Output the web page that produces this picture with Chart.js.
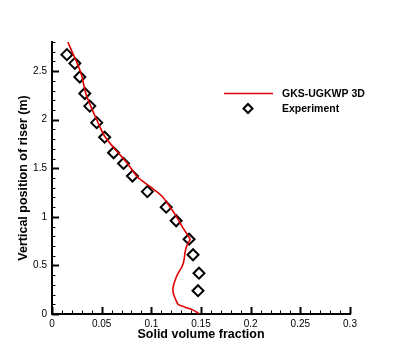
<!DOCTYPE html>
<html>
<head>
<meta charset="utf-8">
<script src="https://cdn.jsdelivr.net/npm/chart.js@4.4.1/dist/chart.umd.min.js"></script>
<style>
  html, body { margin: 0; padding: 0; background: #fff; }
  #wrap { width: 398px; height: 354px; }
</style>
</head>
<body>
<div id="wrap"><canvas id="riserChart" width="398" height="354"></canvas></div>
<script>
// GKS-UGKWP 3D profile (top of riser down to the bottom)
const simX = [0.016, 0.021, 0.025, 0.030, 0.034, 0.039, 0.045, 0.053, 0.064, 0.076, 0.086, 0.099,
              0.111, 0.121, 0.126, 0.131, 0.136, 0.139, 0.136, 0.134, 0.133, 0.131, 0.127, 0.124,
              0.122, 0.122, 0.124, 0.127, 0.134, 0.142, 0.147, 0.148];
const simY = [2.80, 2.68, 2.59, 2.45, 2.27, 2.14, 2.00, 1.83, 1.69, 1.55, 1.41, 1.31,
              1.21, 1.07, 0.99, 0.90, 0.82, 0.77, 0.71, 0.64, 0.56, 0.49, 0.42, 0.35,
              0.28, 0.22, 0.16, 0.10, 0.07, 0.04, 0.01, 0.00];

// experiment symbols
const expX = [0.015, 0.023, 0.028, 0.033, 0.038, 0.045, 0.053, 0.062, 0.072, 0.081, 0.096, 0.115,
              0.125, 0.138, 0.142, 0.148, 0.147];
const expY = [2.67, 2.58, 2.44, 2.27, 2.14, 1.97, 1.82, 1.66, 1.55, 1.42, 1.26, 1.10,
              0.96, 0.77, 0.61, 0.42, 0.24];

const xTickValues = [0, 0.05, 0.1, 0.15, 0.2, 0.25, 0.3];
const yTickValues = [0, 0.5, 1, 1.5, 2, 2.5];

const FONT = '"Liberation Sans", Arial, Helvetica, sans-serif';
const RED = 'rgb(222,0,0)';

const toPoints = (xs, ys) => xs.map((x, i) => ({ x, y: ys[i] }));
const fmt = v => String(parseFloat(Number(v).toFixed(3)));

// Tecplot-style ticks: pointing into the plot, minor ones in between
const inwardTicks = {
  id: 'inwardTicks',
  afterDraw(chart) {
    const { ctx, chartArea: a, scales: { x, y } } = chart;
    ctx.save();
    ctx.strokeStyle = '#000';
    for (let i = 0; i <= 30; i++) {
      const major = i % 5 === 0;
      const px = Math.round(x.getPixelForValue(i / 100)) + 0.5;
      ctx.lineWidth = major ? 2 : 1;
      ctx.beginPath();
      ctx.moveTo(px, a.bottom);
      ctx.lineTo(px, a.bottom - (major ? 7 : 3.5));
      ctx.stroke();
    }
    for (let i = 0; i <= 28; i++) {
      const major = i % 5 === 0;
      const py = Math.round(y.getPixelForValue(i / 10)) + 0.5;
      ctx.lineWidth = major ? 2 : 1;
      ctx.beginPath();
      ctx.moveTo(a.left, py);
      ctx.lineTo(a.left + (major ? 7 : 3.5), py);
      ctx.stroke();
    }
    ctx.restore();
  }
};

// legend box inside the plot, upper right
const innerLegend = {
  id: 'innerLegend',
  afterDraw(chart) {
    const { ctx } = chart;
    const [sim, exp] = chart.data.datasets;
    ctx.save();
    ctx.font = 'bold 10.5px ' + FONT;
    ctx.textBaseline = 'middle';
    ctx.fillStyle = '#000';

    ctx.strokeStyle = sim.borderColor;
    ctx.lineWidth = sim.borderWidth;
    ctx.beginPath();
    ctx.moveTo(224, 93.5);
    ctx.lineTo(273, 93.5);
    ctx.stroke();
    ctx.fillText(sim.label, 282, 94);

    const cx = 248, cy = 108.5, r = 4.5;
    ctx.strokeStyle = exp.borderColor;
    ctx.lineWidth = exp.borderWidth;
    ctx.beginPath();
    ctx.moveTo(cx, cy - r);
    ctx.lineTo(cx + r, cy);
    ctx.lineTo(cx, cy + r);
    ctx.lineTo(cx - r, cy);
    ctx.closePath();
    ctx.stroke();
    ctx.fillText(exp.label, 282, 109);
    ctx.restore();
  }
};

new Chart(document.getElementById('riserChart'), {
  type: 'scatter',
  data: {
    datasets: [
      {
        label: 'GKS-UGKWP 3D',
        data: toPoints(simX, simY),
        showLine: true,
        borderColor: RED,
        borderWidth: 1.6,
        pointRadius: 0,
        tension: 0.25,
        fill: false,
      },
      {
        label: 'Experiment',
        data: toPoints(expX, expY),
        showLine: false,
        pointStyle: 'rectRot',
        pointRadius: 5.5,
        borderColor: '#000',
        borderWidth: 2,
        backgroundColor: 'rgba(0,0,0,0)',
      },
    ],
  },
  options: {
    responsive: false,
    animation: false,
    layout: { padding: { top: 42, right: 48, left: 0, bottom: 0 } },
    plugins: { legend: { display: false }, tooltip: { enabled: false } },
    scales: {
      x: {
        type: 'linear',
        min: 0,
        max: 0.3,
        afterBuildTicks: s => { s.ticks = xTickValues.map(v => ({ value: v })); },
        afterFit: s => { s.height = 40; },
        grid: { drawOnChartArea: false, drawTicks: false },
        border: { display: true, color: '#000', width: 2 },
        ticks: {
          color: '#000', font: { family: FONT, size: 10 }, padding: 4,
          maxRotation: 0, autoSkip: false, callback: fmt,
        },
        title: {
          display: true, text: 'Solid volume fraction', color: '#000',
          font: { family: FONT, size: 12.5, weight: 'bold' },
          padding: { top: 0, bottom: 11.5 },
        },
      },
      y: {
        type: 'linear',
        min: 0,
        max: 2.8,
        afterBuildTicks: s => { s.ticks = yTickValues.map(v => ({ value: v })); },
        afterFit: s => { s.width = 52; },
        grid: { drawOnChartArea: false, drawTicks: false },
        border: { display: true, color: '#000', width: 2 },
        ticks: {
          color: '#000', font: { family: FONT, size: 10 }, padding: 5,
          autoSkip: false, callback: fmt,
        },
        title: {
          display: true, text: 'Vertical position of riser (m)', color: '#000',
          font: { family: FONT, size: 12.5, weight: 'bold' },
          padding: { top: 16.5, bottom: 0 },
        },
      },
    },
  },
  plugins: [inwardTicks, innerLegend],
});
</script>
</body>
</html>
